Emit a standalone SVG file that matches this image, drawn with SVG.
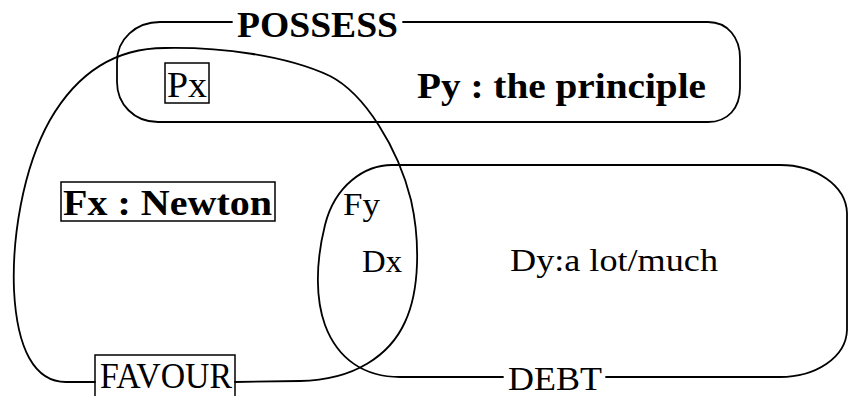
<svg xmlns="http://www.w3.org/2000/svg" width="848" height="396" viewBox="0 0 848 396">
<style>
.o{fill:none;stroke:#000;stroke-width:1.8;stroke-linejoin:round;stroke-linecap:round}
.b{fill:none;stroke:#000;stroke-width:1.5}
.t{font-family:"Liberation Serif","Times New Roman",serif;fill:#000}
.bd{font-weight:bold}
</style>
<rect width="848" height="396" fill="#fff"/>
<g id="possess">
<path class="o" d="M403 22 L708 22 C728 22 740 38 740 58 L740 88 C740 108 728 122 708 122 L158 122 C134 122 117 104 117 82 L117 62 C117 39 136 22 160 22 L232 22"/>
<text class="t bd" x="237" y="37" font-size="36" textLength="161" lengthAdjust="spacingAndGlyphs">POSSESS</text>
</g>
<g id="favour">
<path class="o" d="M95 382 L66 382 C35 382 17 350 14 290 C12 240 22 170 50 120 C80 68 120 48 165 48 C220 47 285 55 330 76 C365 94 398 148 411 200 C420 240 420 290 405 322 C390 355 355 380 300 381 L235 382"/>
<rect class="b" x="95" y="355" width="140" height="50"/>
<text class="t" x="100" y="388" font-size="35" textLength="132" lengthAdjust="spacingAndGlyphs">FAVOUR</text>
</g>
<g id="debt">
<path class="o" d="M606 377 L780 377 C815 377 846 358 847 330 L847 213 C846 185 815 165 780 165 L392 165 C365 165 335 185 325 225 C315 265 316 300 325 325 C338 360 365 377 400 377 L503 377"/>
<text class="t" x="508" y="390" font-size="34" textLength="94" lengthAdjust="spacingAndGlyphs">DEBT</text>
</g>
<g id="px">
<rect class="b" x="165" y="63" width="44" height="40"/>
<text class="t" x="167" y="97" font-size="36" textLength="40" lengthAdjust="spacingAndGlyphs">Px</text>
</g>
<g id="py">
<text class="t bd" x="417" y="98" font-size="35" textLength="289" lengthAdjust="spacingAndGlyphs">Py : the principle</text>
</g>
<g id="fx">
<rect class="b" x="61" y="182" width="214" height="39"/>
<text class="t bd" x="63" y="215" font-size="36" textLength="209" lengthAdjust="spacingAndGlyphs">Fx : Newton</text>
</g>
<g id="fy">
<text class="t" x="343" y="215" font-size="32" textLength="37" lengthAdjust="spacingAndGlyphs">Fy</text>
</g>
<g id="dx">
<text class="t" x="362" y="272" font-size="32" textLength="40" lengthAdjust="spacingAndGlyphs">Dx</text>
</g>
<g id="dy">
<text class="t" x="510" y="271" font-size="32" textLength="208" lengthAdjust="spacingAndGlyphs">Dy:a lot/much</text>
</g>
</svg>
